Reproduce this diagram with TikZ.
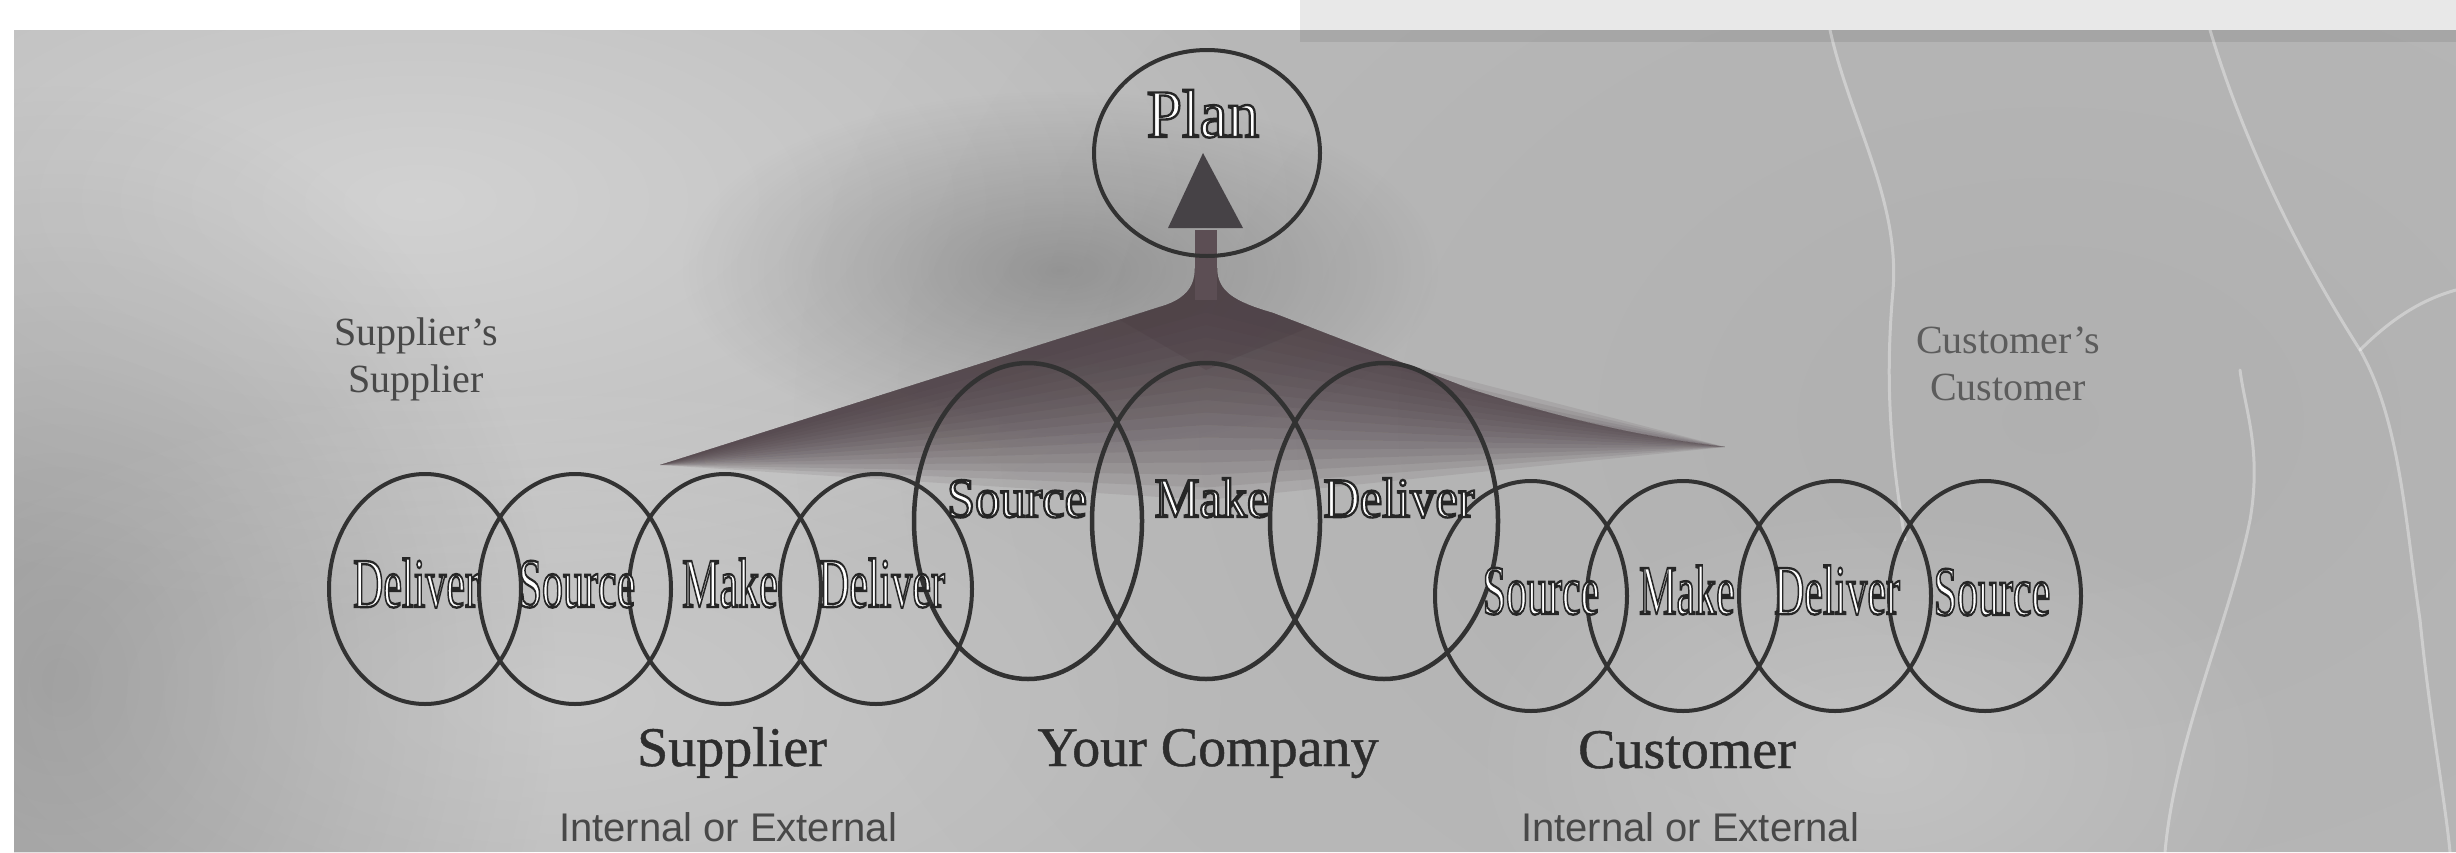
\documentclass[tikz,border=0pt]{standalone}
\usepackage{fontspec}
\usepackage{graphicx}
\setmainfont{Liberation Serif}
\newfontfamily\labsans{Liberation Sans}
\newfontfamily\rowserif[FakeBold=0.8]{Liberation Serif}
\usetikzlibrary{fadings,shapes.geometric}
\definecolor{bggray}{RGB}{186,186,186}
\definecolor{ringcol}{RGB}{50,50,50}
\definecolor{tentcol}{RGB}{74,60,66}
\definecolor{shaftcol}{RGB}{92,78,84}
\definecolor{headcol}{RGB}{70,66,70}
\definecolor{txtcol}{RGB}{45,45,45}
\definecolor{lighttxt}{RGB}{72,72,72}
\definecolor{greytxt}{RGB}{92,92,92}
\definecolor{topstrip}{RGB}{232,232,232}
\tikzfading[name=softc, inner color=transparent!0, outer color=transparent!100]
\newcommand\hollowtext[1]{\special{pdf:literal direct 2 Tr 2.4 w 0.15 G}#1\special{pdf:literal direct 0 Tr}}
\begin{document}
\begin{tikzpicture}[x=1pt,y=-1pt,
  smallring/.style={ellipse, draw=ringcol, line width=4pt, minimum width=192pt, minimum height=230pt, inner sep=0pt},
  bigring/.style={ellipse, draw=ringcol, line width=4.5pt, minimum width=228pt, minimum height=316pt, inner sep=0pt},
  planring/.style={ellipse, draw=ringcol, line width=4pt, minimum width=226pt, minimum height=206pt, inner sep=0pt},
  smalllabel/.style={anchor=base, text=white, inner sep=0pt, font=\fontsize{70}{70}\selectfont},
  biglabel/.style={anchor=base, text=white, inner sep=0pt, font=\fontsize{56}{56}\selectfont},
  planlabel/.style={anchor=base, text=white, inner sep=0pt, font=\fontsize{68}{68}\selectfont},
  rowlabel/.style={anchor=base, text=txtcol, inner sep=0pt, font=\rowserif\fontsize{56}{56}\selectfont},
  sublabel/.style={anchor=base, text=lighttxt, inner sep=0pt, font=\labsans\fontsize{40}{40}\selectfont},
  sidelabel/.style={align=center, inner sep=0pt, font=\fontsize{40}{47}\selectfont},
  vein/.style={white, opacity=0.35, line width=3pt, line cap=round}
]
\useasboundingbox (0,0) rectangle (2456,852);
% background
\fill[white] (0,0) rectangle (2456,852);
\fill[topstrip] (1300,0) rectangle (2456,30);
\fill[bggray] (14,30) rectangle (2456,852);
\begin{scope}
\clip (14,30) rectangle (2456,852);
\fill[white, opacity=0.35, path fading=softc] (420,200) ellipse (900 and 420);
\fill[black, opacity=0.16, path fading=softc] (60,680) ellipse (500 and 600);
\fill[white, opacity=0.22, path fading=softc] (560,700) ellipse (700 and 330);
\fill[black, opacity=0.22, path fading=softc] (1060,270) ellipse (380 and 180);
\fill[black, opacity=0.05, path fading=softc] (2050,420) ellipse (1300 and 900);
\fill[black, opacity=0.08] (1300,30) rectangle (2456,42);
\fill[white, opacity=0.2, path fading=softc] (1880,760) ellipse (420 and 260);
% veins
\draw[vein] (1830,30) .. controls (1850,120) and (1900,200) .. (1893,290) .. controls (1885,380) and (1890,450) .. (1905,540);
\draw[vein] (2210,30) .. controls (2240,130) and (2290,240) .. (2360,350) .. controls (2400,420) and (2405,520) .. (2420,620) .. controls (2430,720) and (2445,800) .. (2450,852);
\draw[vein] (2360,350) .. controls (2390,320) and (2420,300) .. (2456,290);
\draw[vein] (2165,852) .. controls (2175,740) and (2230,620) .. (2250,520) .. controls (2262,450) and (2245,410) .. (2240,370);
\end{scope}
% tent shading
\foreach \k in {1,...,16}{
  \fill[tentcol, opacity=0.11]
    (660,465) -- (1166,305) .. controls (1182,299) and (1195,290) .. (1195,268)
    -- (1217,268) .. controls (1217,292) and (1235,302) .. (1273,313)
    -- (1473,390) .. controls (1560,418) and (1640,437) .. (1725,447)
    -- (1206,{300+12.5*\k}) -- cycle;
}
\fill[tentcol, opacity=0.3] (1120,320) -- (1166,305) .. controls (1182,299) and (1195,290) .. (1195,268)
    -- (1217,268) .. controls (1217,292) and (1235,302) .. (1273,313) -- (1310,327) -- (1206,370) -- cycle;
% arrow to Plan
\coordinate (shaftbase) at (1206,300);
\coordinate (headbase) at (1206,228);
\coordinate (tip) at (1203,153);
\draw[shaftcol, line width=22pt] (shaftbase) -- ([yshift=-2pt]headbase);
\fill[headcol] (tip) -- ([xshift=37pt]headbase) -- ([xshift=-38pt]headbase) -- cycle;
% rings
\node[smallring] (sL1) at (425,589) {};
\node[smallring] (sL2) at (575,589) {};
\node[smallring] (sL3) at (725,589) {};
\node[smallring] (sL4) at (876,589) {};
\node[smallring] (sR1) at (1531,596) {};
\node[smallring] (sR2) at (1683,596) {};
\node[smallring] (sR3) at (1835,596) {};
\node[smallring] (sR4) at (1985,596) {};
\node[bigring] (yS) at (1028,521) {};
\node[bigring] (yM) at (1206,521) {};
\node[bigring] (yD) at (1384,521) {};
\node[planring] (plan) at (1207,153) {};
% ring labels
\node[smalllabel] (tL1) at (416,607) {\scalebox{0.6}[1]{\hollowtext{Deliver}}};
\node[smalllabel] (tL2) at (577,607) {\scalebox{0.6}[1]{\hollowtext{Source}}};
\node[smalllabel] (tL3) at (730,607) {\scalebox{0.6}[1]{\hollowtext{Make}}};
\node[smalllabel] (tL4) at (882,607) {\scalebox{0.6}[1]{\hollowtext{Deliver}}};
\node[smalllabel] (tR1) at (1541,614) {\scalebox{0.6}[1]{\hollowtext{Source}}};
\node[smalllabel] (tR2) at (1687,614) {\scalebox{0.6}[1]{\hollowtext{Make}}};
\node[smalllabel] (tR3) at (1837,614) {\scalebox{0.6}[1]{\hollowtext{Deliver}}};
\node[smalllabel] (tR4) at (1992,615) {\scalebox{0.6}[1]{\hollowtext{Source}}};
\node[biglabel] (tYS) at (1017,517) {\scalebox{0.9}[1]{\hollowtext{Source}}};
\node[biglabel] (tYM) at (1212,517) {\scalebox{0.9}[1]{\hollowtext{Make}}};
\node[biglabel] (tYD) at (1399,517) {\scalebox{0.9}[1]{\hollowtext{Deliver}}};
\node[planlabel] (tPlan) at (1203,137) {\scalebox{0.93}[1]{\hollowtext{Plan}}};
% side labels
\node[sidelabel, text=lighttxt] (ss) at (416,359) {Supplier's\\Supplier};
\node[sidelabel, text=greytxt] (cc) at (2008,364) {Customer's\\Customer};
% row labels
\node[rowlabel] (rowS) at (732,766) {Supplier};
\node[rowlabel] (rowY) at (1208,766) {Your Company};
\node[rowlabel] (rowC) at (1687,768) {Customer};
\node[sublabel] (subS) at (728,841) {Internal or External};
\node[sublabel] (subC) at (1690,841) {Internal or External};
\end{tikzpicture}
\end{document}
